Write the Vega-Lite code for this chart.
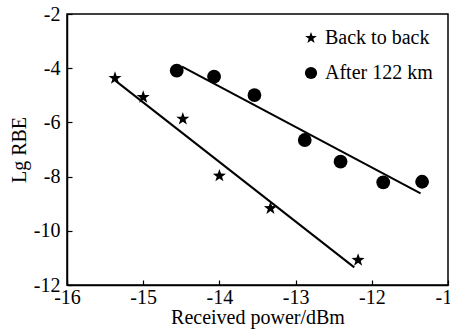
{
  "$schema": "https://vega.github.io/schema/vega-lite/v6.json",
  "width": 381,
  "height": 271,
  "autosize": "none",
  "padding": {"left": 67, "top": 14, "right": 2, "bottom": 44},
  "config": {
    "font": "Liberation Serif",
    "view": {"stroke": "black", "strokeWidth": 1.5},
    "axis": {"grid": false, "domainColor": "black", "domainWidth": 1.5, "tickColor": "black", "tickWidth": 1.2, "labelColor": "black", "titleColor": "black", "labelFontSize": 20, "titleFontSize": 20, "titleFontWeight": "normal", "labelFont": "Liberation Serif", "titleFont": "Liberation Serif", "labelOverlap": false, "labelFlush": false}
  },
  "datasets": {
    "pts": [
      {"power": -15.37, "lg": -4.37, "series": "Back to back"},
      {"power": -15.0, "lg": -5.07, "series": "Back to back"},
      {"power": -14.48, "lg": -5.87, "series": "Back to back"},
      {"power": -14.0, "lg": -7.97, "series": "Back to back"},
      {"power": -13.33, "lg": -9.17, "series": "Back to back"},
      {"power": -12.18, "lg": -11.08, "series": "Back to back"},
      {"power": -14.56, "lg": -4.09, "series": "After 122 km"},
      {"power": -14.07, "lg": -4.31, "series": "After 122 km"},
      {"power": -13.54, "lg": -4.99, "series": "After 122 km"},
      {"power": -12.88, "lg": -6.65, "series": "After 122 km"},
      {"power": -12.41, "lg": -7.45, "series": "After 122 km"},
      {"power": -11.85, "lg": -8.21, "series": "After 122 km"},
      {"power": -11.34, "lg": -8.19, "series": "After 122 km"}
    ],
    "fits": [
      {"power": -15.37, "lg": -4.45, "series": "Back to back"},
      {"power": -12.23, "lg": -11.35, "series": "Back to back"},
      {"power": -14.49, "lg": -3.94, "series": "After 122 km"},
      {"power": -11.36, "lg": -8.62, "series": "After 122 km"}
    ]
  },
  "layer": [
    {
      "data": {"name": "fits"},
      "mark": {"type": "line", "color": "black", "strokeWidth": 2},
      "encoding": {
        "x": {"field": "power", "type": "quantitative", "scale": {"domain": [-16, -11], "nice": false, "zero": false},
          "axis": {"orient": "bottom", "values": [-16, -15, -14, -13, -12, -11], "tickSize": -5, "labelPadding": 7, "title": "Received power/dBm", "titlePadding": 0, "labelExpr": "'-' + abs(datum.value)"}},
        "y": {"field": "lg", "type": "quantitative", "scale": {"domain": [-12, -2], "nice": false, "zero": false},
          "axis": {"orient": "left", "values": [-12, -10, -8, -6, -4, -2], "tickSize": -5, "labelPadding": 12, "title": "Lg RBE", "titlePadding": 4, "labelExpr": "'-' + abs(datum.value)"}},
        "detail": {"field": "series"}
      }
    },
    {
      "data": {"name": "pts"},
      "mark": {"type": "point", "filled": true, "color": "black", "opacity": 1, "size": 190},
      "encoding": {
        "x": {"field": "power", "type": "quantitative"},
        "y": {"field": "lg", "type": "quantitative"},
        "shape": {"field": "series", "type": "nominal",
          "scale": {"domain": ["Back to back", "After 122 km"], "range": ["M0,-1L0.235,-0.324L0.951,-0.309L0.38,0.124L0.588,0.809L0,0.4L-0.588,0.809L-0.38,0.124L-0.951,-0.309L-0.235,-0.324Z", "circle"]},
          "legend": {"title": null, "orient": "none", "legendX": 234, "legendY": 14, "padding": 0, "labelFontSize": 20, "labelFont": "Liberation Serif", "labelColor": "black", "symbolSize": 150, "symbolFillColor": "black", "symbolStrokeColor": "black", "symbolOpacity": 1, "labelOffset": 4, "rowPadding": 15}}
      }
    }
  ]
}
